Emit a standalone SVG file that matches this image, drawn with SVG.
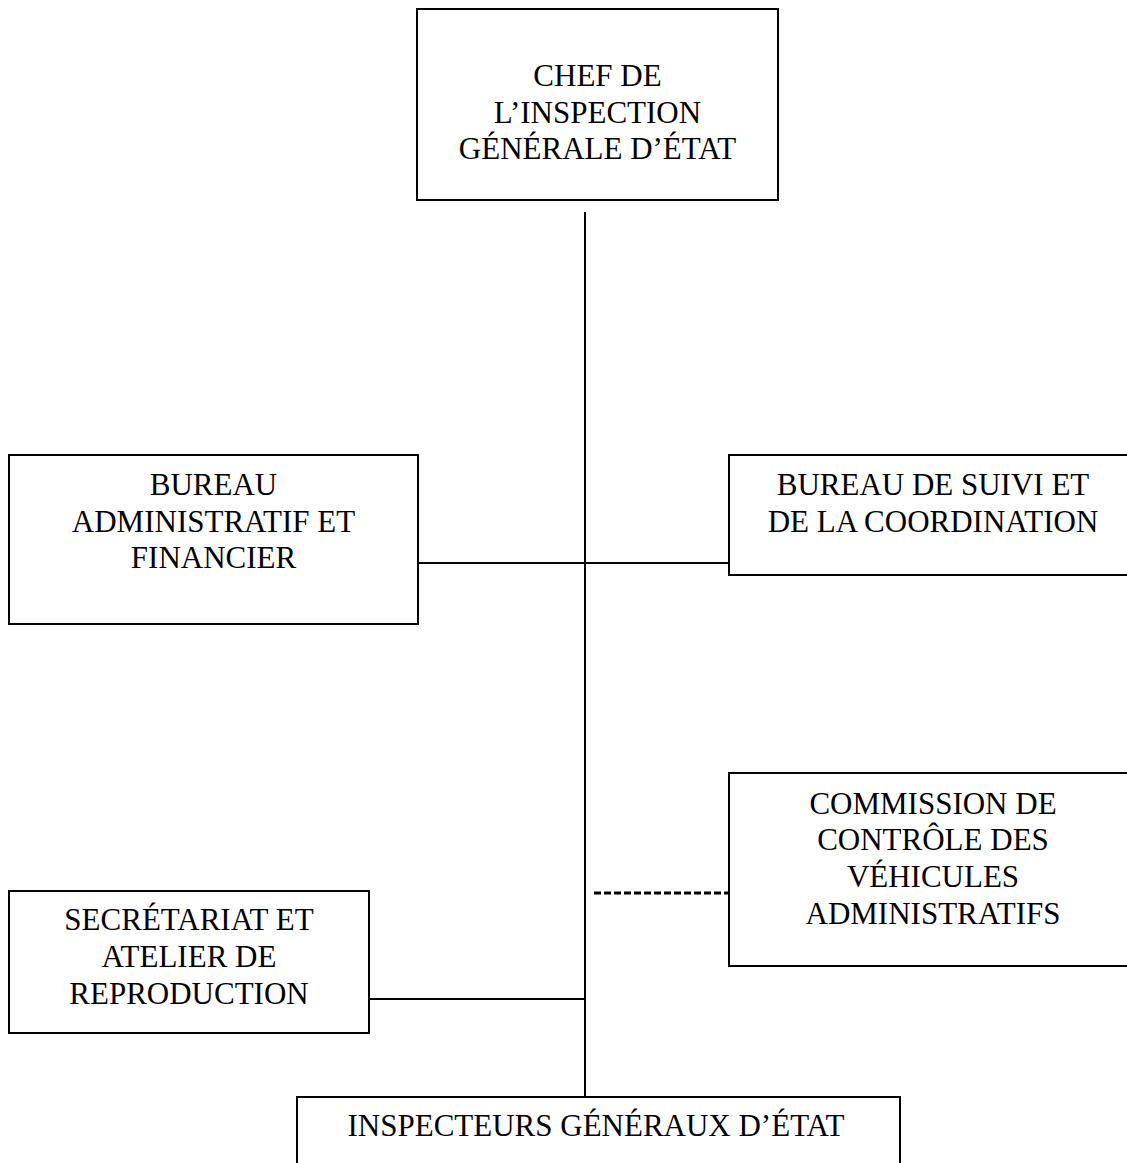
<svg xmlns="http://www.w3.org/2000/svg" width="1127" height="1163" viewBox="0 0 1127 1163">
<style>
.box{fill:#fff;stroke:#000;stroke-width:2}
.t{font-family:"Liberation Serif","Times New Roman",serif;font-size:31px;fill:#000;text-anchor:middle}
.ln{stroke:#000;stroke-width:2;fill:none}
.dash{stroke:#000;stroke-width:3;stroke-dasharray:7 3;fill:none}
</style>
<rect width="1127" height="1163" fill="#fff"/>
<g id="connectors">
<line class="ln" x1="585" y1="212" x2="585" y2="1101"/>
<line class="ln" x1="418" y1="563" x2="729" y2="563"/>
<line class="ln" x1="369" y1="999" x2="585" y2="999"/>
<line class="dash" x1="594" y1="893" x2="729" y2="893"/>
</g>
<g id="chef">
<rect class="box" x="417" y="9" width="361" height="191"/>
<text class="t" x="597.5" y="86">CHEF DE</text>
<text class="t" x="597.5" y="122.5">L’INSPECTION</text>
<text class="t" x="597.5" y="159">GÉNÉRALE D’ÉTAT</text>
</g>
<g id="bureau-admin">
<rect class="box" x="9" y="455" width="409" height="169"/>
<text class="t" x="213.5" y="495">BUREAU</text>
<text class="t" x="213.5" y="531.5">ADMINISTRATIF ET</text>
<text class="t" x="213.5" y="568">FINANCIER</text>
</g>
<g id="bureau-suivi">
<rect class="box" x="729" y="455" width="410" height="120"/>
<text class="t" x="933" y="495">BUREAU DE SUIVI ET</text>
<text class="t" x="933" y="531.5">DE LA COORDINATION</text>
</g>
<g id="commission">
<rect class="box" x="729" y="773" width="410" height="193"/>
<text class="t" x="933" y="814">COMMISSION DE</text>
<text class="t" x="933" y="850">CONTRÔLE DES</text>
<text class="t" x="933" y="887">VÉHICULES</text>
<text class="t" x="933" y="924">ADMINISTRATIFS</text>
</g>
<g id="secretariat">
<rect class="box" x="9" y="891" width="360" height="142"/>
<text class="t" x="189" y="930">SECRÉTARIAT ET</text>
<text class="t" x="189" y="967">ATELIER DE</text>
<text class="t" x="189" y="1004">REPRODUCTION</text>
</g>
<g id="inspecteurs">
<rect class="box" x="297" y="1097" width="603" height="90"/>
<text class="t" x="596" y="1136">INSPECTEURS GÉNÉRAUX D’ÉTAT</text>
</g>
</svg>
